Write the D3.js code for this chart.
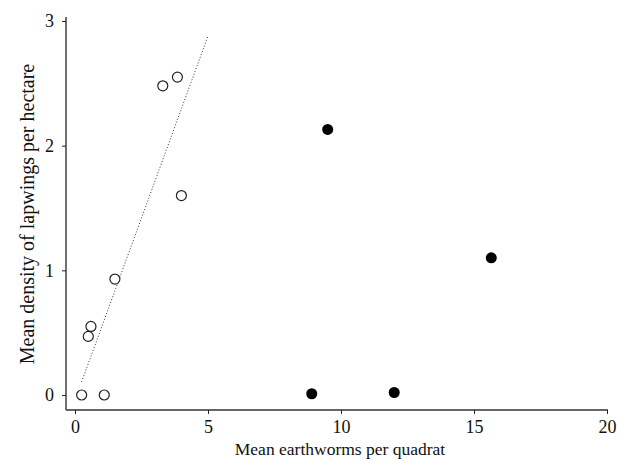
<!DOCTYPE html>
<html lang="en">
  <head>
    <meta charset="UTF-8" />
    <title>Lapwings and earthworms</title>
    <style>
      html, body { margin: 0; padding: 0; background: #fff; }
      svg { display: block; }
    </style>
    <script src="https://cdn.jsdelivr.net/npm/d3@7/dist/d3.min.js"></script>
  </head>
  <body>
    <script>
      const width = 617;
      const height = 462;

      // open circles: sites with the positive relationship
      const openX = [0.25, 1.1, 0.5, 0.6, 1.5, 3.3, 3.85, 4.0];
      const openY = [0.0, 0.0, 0.47, 0.55, 0.93, 2.48, 2.55, 1.6];

      // filled circles
      const filledX = [8.9, 12.0, 9.5, 15.65];
      const filledY = [0.01, 0.02, 2.13, 1.1];

      // fitted line through the open points
      const fitX = [0.25, 5.0];
      const fitIntercept = -0.04;
      const fitSlope = 0.584;

      const xTicks = [0, 5, 10, 15, 20];
      const yTicks = [0, 1, 2, 3];

      const x = d3.scaleLinear().domain([0, 20]).range([75, 607]);
      const y = d3.scaleLinear().domain([0, 3]).range([395, 21]);

      const axisX = 66;
      const axisY = 410;
      const serif = "Liberation Serif, DejaVu Serif, serif";

      const svg = d3
        .select(document.body)
        .append("svg")
        .attr("width", width)
        .attr("height", height)
        .attr("font-family", serif);

      // axis lines
      svg
        .append("line")
        .attr("x1", axisX)
        .attr("x2", axisX)
        .attr("y1", 17)
        .attr("y2", axisY)
        .attr("stroke", "#222")
        .attr("stroke-width", 1.3);
      svg
        .append("line")
        .attr("x1", axisX)
        .attr("x2", 608)
        .attr("y1", axisY)
        .attr("y2", axisY)
        .attr("stroke", "#333")
        .attr("stroke-width", 1.3);

      const styleTicks = (g) => {
        g.select(".domain").remove();
        g.attr("font-family", serif).attr("font-size", 18);
        g.selectAll("line").attr("stroke", "#222");
        g.selectAll("text").attr("fill", "#111");
      };

      svg
        .append("g")
        .attr("transform", `translate(0,${axisY})`)
        .call(
          d3
            .axisBottom(x)
            .tickValues(xTicks)
            .tickFormat(d3.format("d"))
            .tickSize(4)
            .tickPadding(6)
        )
        .call(styleTicks);

      svg
        .append("g")
        .attr("transform", `translate(${axisX},0)`)
        .call(
          d3
            .axisLeft(y)
            .tickValues(yTicks)
            .tickFormat(d3.format("d"))
            .tickSize(4)
            .tickPadding(8)
        )
        .call(styleTicks);

      // axis titles
      svg
        .append("text")
        .attr("x", 340)
        .attr("y", 455)
        .attr("text-anchor", "middle")
        .attr("font-size", 17.5)
        .attr("fill", "#111")
        .text("Mean earthworms per quadrat");

      svg
        .append("text")
        .attr("transform", "translate(34,214) rotate(-90)")
        .attr("text-anchor", "middle")
        .attr("font-size", 20)
        .attr("fill", "#111")
        .text("Mean density of lapwings per hectare");

      // dotted fit line
      svg
        .append("line")
        .attr("x1", x(fitX[0]))
        .attr("y1", y(fitIntercept + fitSlope * fitX[0]))
        .attr("x2", x(fitX[1]))
        .attr("y2", y(fitIntercept + fitSlope * fitX[1]))
        .attr("stroke", "#333")
        .attr("stroke-width", 1)
        .attr("stroke-dasharray", "1,2");

      svg
        .append("g")
        .selectAll("circle")
        .data(openX.map((v, i) => [v, openY[i]]))
        .join("circle")
        .attr("cx", (d) => x(d[0]))
        .attr("cy", (d) => y(d[1]))
        .attr("r", 5)
        .attr("fill", "#fff")
        .attr("stroke", "#222")
        .attr("stroke-width", 1.2);

      svg
        .append("g")
        .selectAll("circle")
        .data(filledX.map((v, i) => [v, filledY[i]]))
        .join("circle")
        .attr("cx", (d) => x(d[0]))
        .attr("cy", (d) => y(d[1]))
        .attr("r", 5.5)
        .attr("fill", "#000");
    </script>
  </body>
</html>
